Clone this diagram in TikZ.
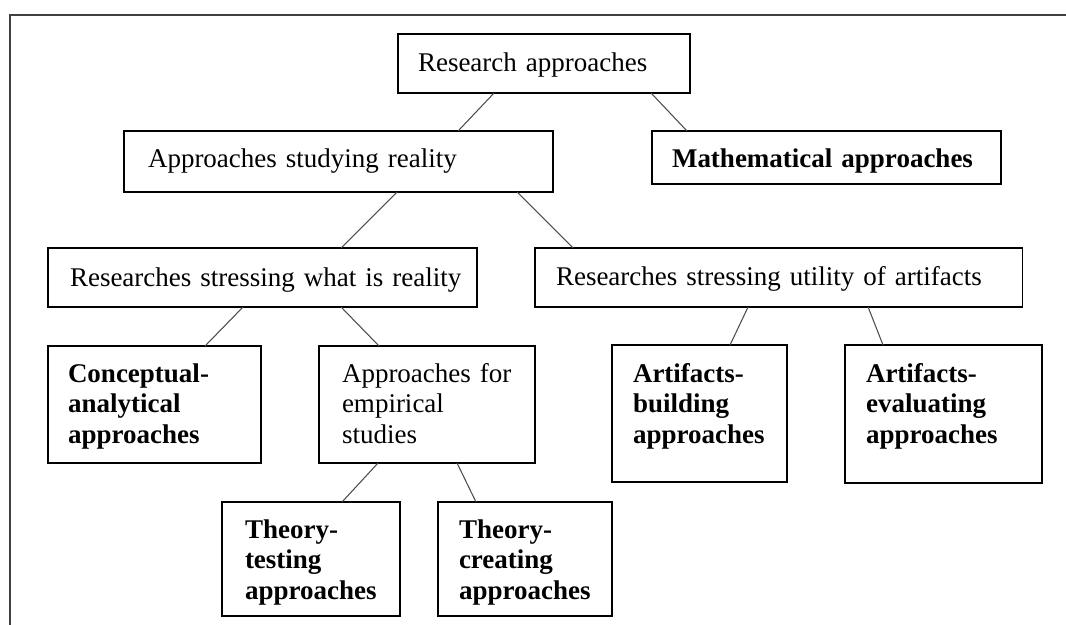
\documentclass[tikz,border=0pt]{standalone}
\usepackage{fontspec}
\setmainfont{Liberation Serif}
\usetikzlibrary{positioning}
\tikzset{
    frame/.style={line width=1.4pt,color=black!75},
    link/.style={line width=0.75pt,color=black!70},
    box/.style={draw,line width=0.9pt,anchor=north west,outer sep=0pt,inner ysep=0pt,align=left,
        font=\fontsize{19.2pt}{21.7pt}\selectfont},
    % width, padding, text height, text depth (all in cm)
    dims/.style n args={4}{minimum width=#1cm,inner xsep=#2cm,text height=#3cm,text depth=#4cm}
}

\begin{document}
\begin{tikzpicture}[x=0.025cm,y=-0.025cm]
    
        \useasboundingbox (0,0) rectangle (1066,625);
        \draw[frame] (10,625) -- (10,15) -- (1066,15); % Frame
        
        % Level 1 and 2
        \node[box,dims={7.3}{0.5}{0.925}{0.55},text width=6.3cm] (ra) at (398,34) {\mbox{Research approaches}};
        \node[box,dims={10.725}{0.6}{0.9}{0.625},text width=9.525cm] (asr) at (124,131) {\mbox{Approaches studying reality}};
        \node[box,dims={8.725}{0.5}{0.9}{0.425},text width=7.725cm] (math) at (652,131) {\mbox{\textbf{Mathematical approaches}}};
        
        % Level 3
        \node[box,dims={10.725}{0.55}{0.95}{0.525},text width=9.625cm] (rwr) at (48,248) {\mbox{Researches stressing what is reality}};
        \node[box,dims={12.175}{0.525}{0.925}{0.55},text width=11.125cm] (rsu) at (535,248) {\mbox{Researches stressing utility of artifacts}};
        
        % Level 4
        \node[box,dims={5.325}{0.5}{0.9}{2.025},text width=4.325cm] (conc) at (48,346) {\textbf{Conceptual-}\\\textbf{analytical}\\\textbf{approaches}};
        \node[box,dims={5.4}{0.575}{0.9}{2.025},text width=4.25cm] (emp) at (319,346) {Approaches for\\empirical\\studies};
        \node[box,dims={4.375}{0.525}{0.925}{2.5},text width=3.325cm] (ab) at (612,345) {\textbf{Artifacts-}\\\textbf{building}\\\textbf{approaches}};
        \node[box,dims={4.925}{0.525}{0.925}{2.525},text width=3.875cm] (ae) at (845,345) {\textbf{Artifacts-}\\\textbf{evaluating}\\\textbf{approaches}};
        
        % Level 5
        \node[box,dims={4.45}{0.575}{0.9}{1.95},text width=3.3cm] (tt) at (222,502) {\textbf{Theory-}\\\textbf{testing}\\\textbf{approaches}};
        \node[box,dims={4.35}{0.525}{0.9}{1.95},text width=3.3cm] (tc) at (438,502) {\textbf{Theory-}\\\textbf{creating}\\\textbf{approaches}};
        
        %%%%Links parent -> child
        \foreach \p/\dp/\c/\dc in {ra/2.4/asr/8.35, ra/6.325/math/0.875, asr/6.825/rwr/7.325, asr/9.825/rsu/0.95,
                rwr/4.875/conc/3.925, rwr/7.325/emp/1.5, rsu/5.325/ab/2.95, rsu/8.325/ae/0.95,
                emp/1.475/tt/3.0, emp/3.45/tc/0.95}
            {
            \draw[link] ([xshift=\dp cm]\p.south west) -- ([xshift=\dc cm]\c.north west);
            }
        
    \end{tikzpicture}
\end{document}
